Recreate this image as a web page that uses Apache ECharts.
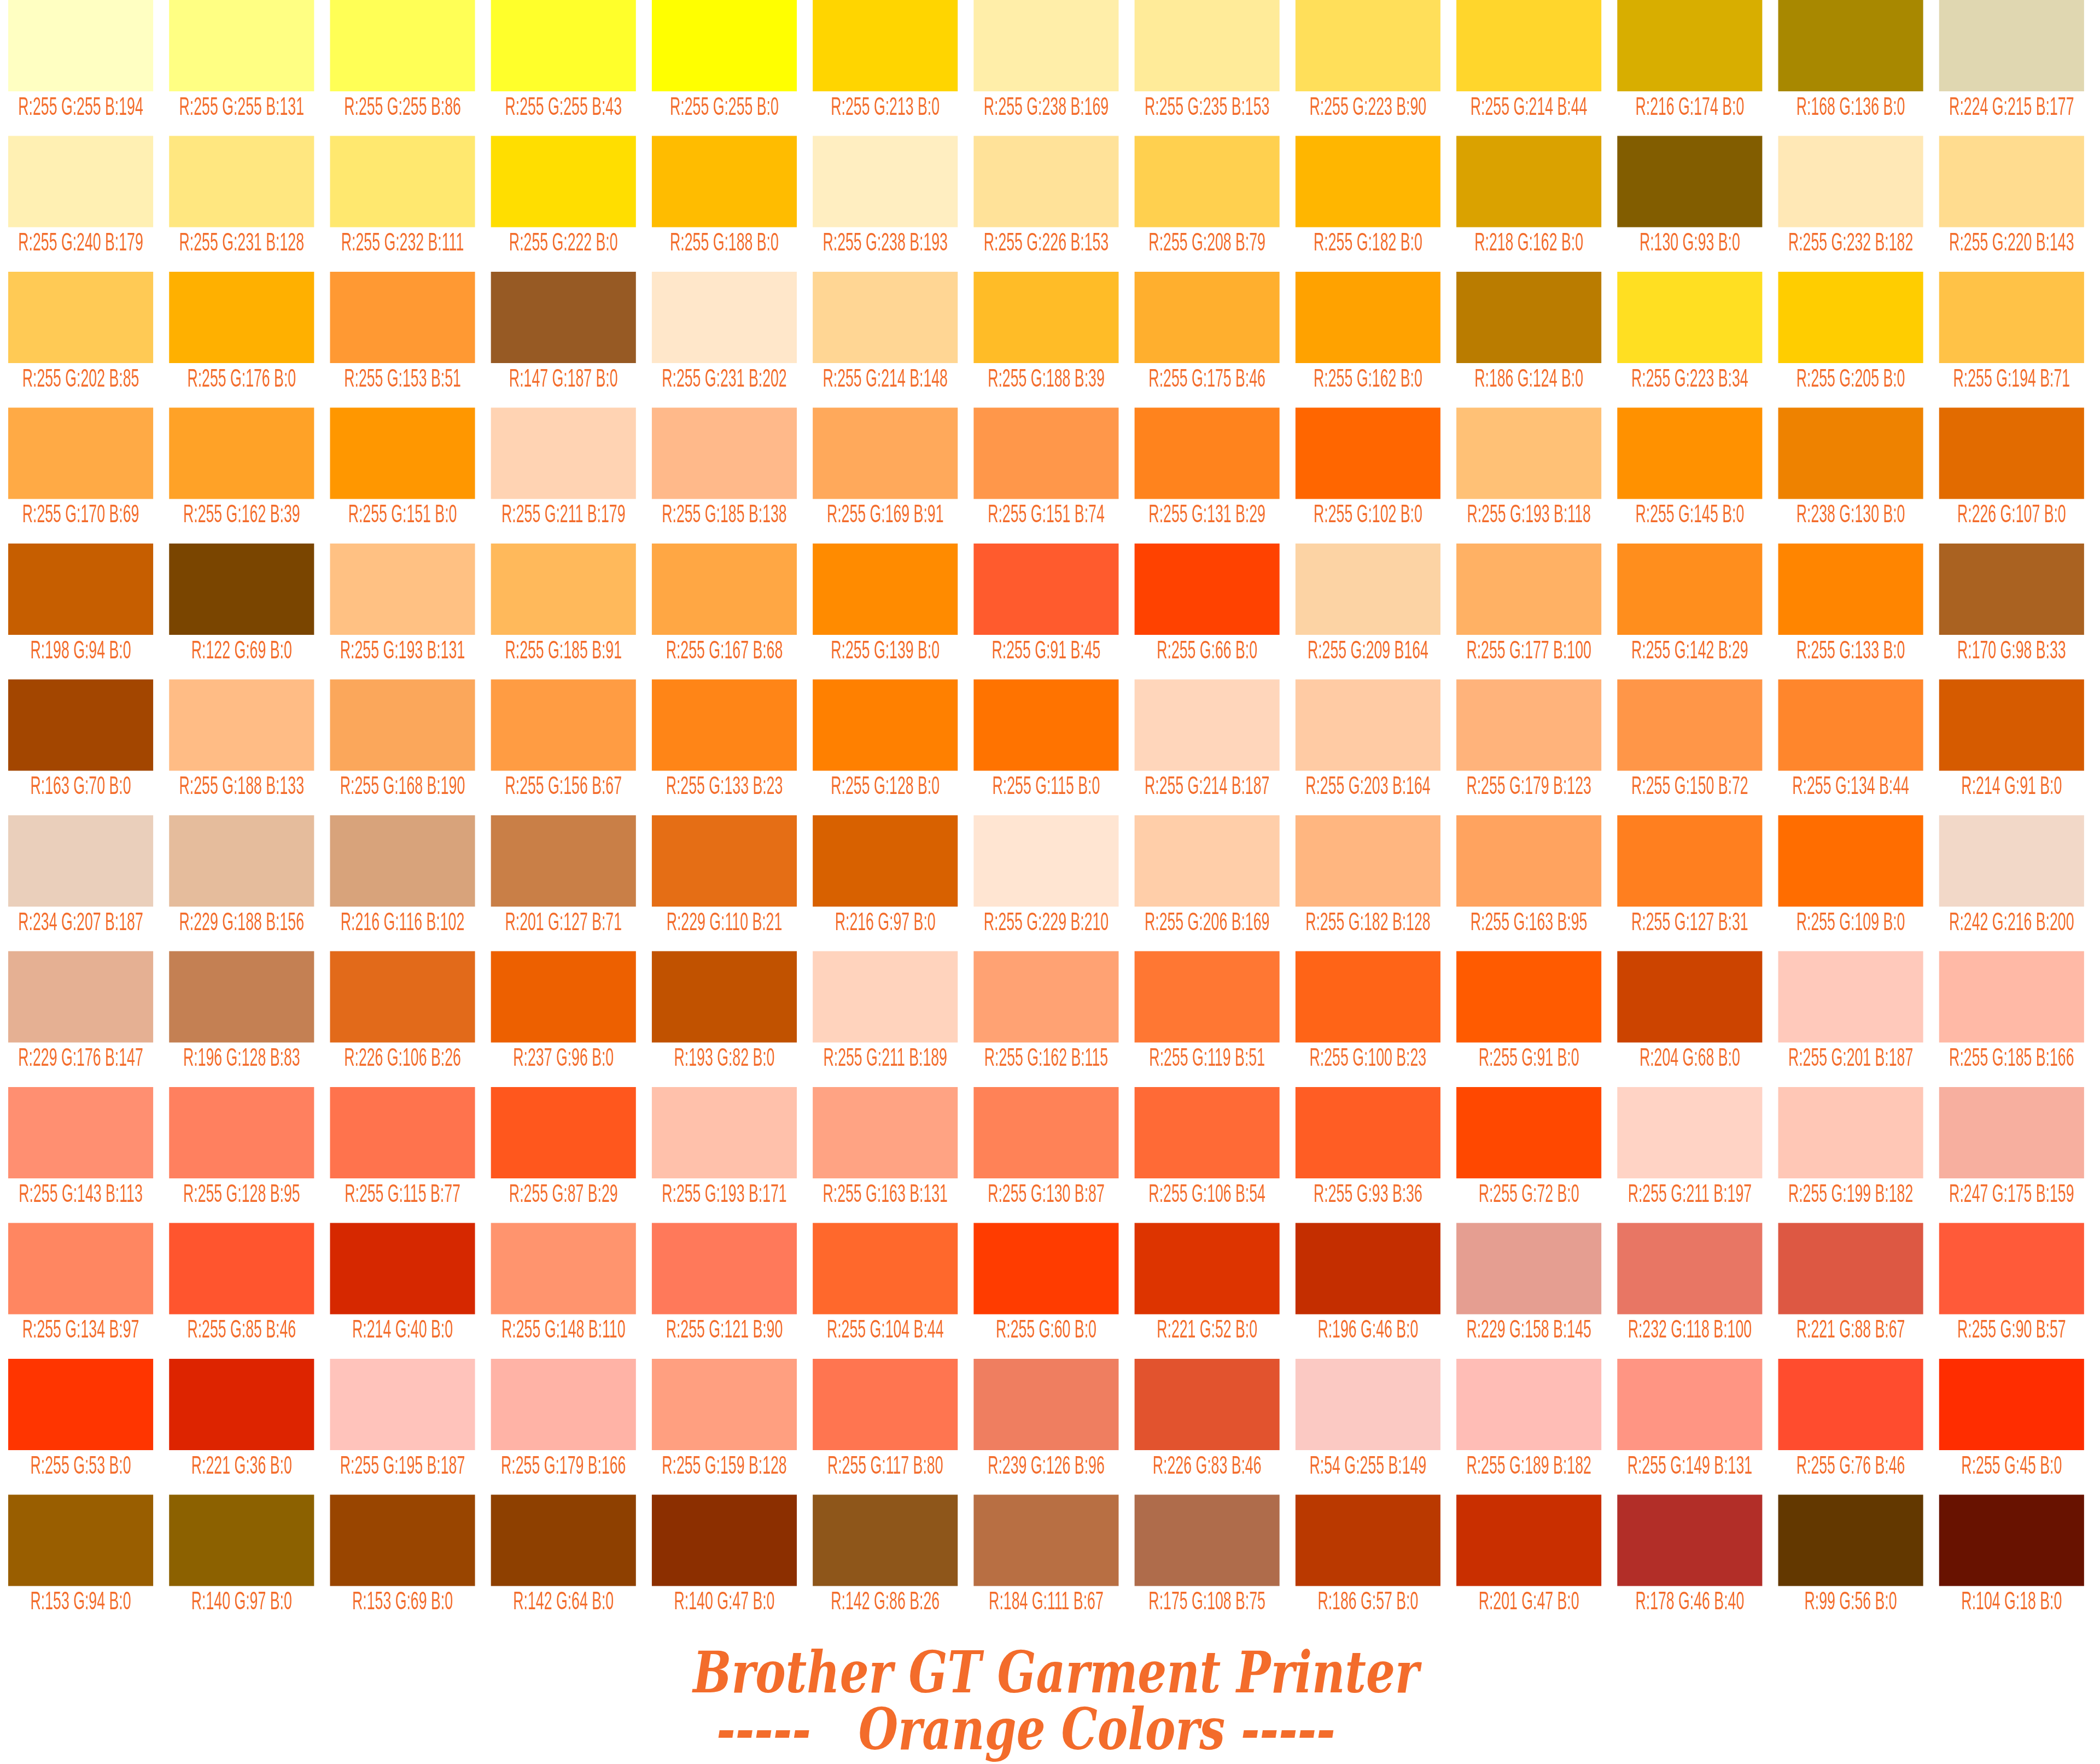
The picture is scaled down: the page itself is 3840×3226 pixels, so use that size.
<!DOCTYPE html>
<html><head><meta charset="utf-8">
<script src="https://cdn.jsdelivr.net/npm/echarts@6/dist/echarts.min.js"></script>
<style>html,body{margin:0;padding:0;background:#fff}#c{width:3840px;height:3226px}</style>
</head><body><div id="c"></div>
<script>
const row1 = ["R:255 G:255 B:194","R:255 G:255 B:131","R:255 G:255 B:86","R:255 G:255 B:43","R:255 G:255 B:0","R:255 G:213 B:0","R:255 G:238 B:169","R:255 G:235 B:153","R:255 G:223 B:90","R:255 G:214 B:44","R:216 G:174 B:0","R:168 G:136 B:0","R:224 G:215 B:177"];
const row2 = ["R:255 G:240 B:179","R:255 G:231 B:128","R:255 G:232 B:111","R:255 G:222 B:0","R:255 G:188 B:0","R:255 G:238 B:193","R:255 G:226 B:153","R:255 G:208 B:79","R:255 G:182 B:0","R:218 G:162 B:0","R:130 G:93 B:0","R:255 G:232 B:182","R:255 G:220 B:143"];
const row3 = ["R:255 G:202 B:85","R:255 G:176 B:0","R:255 G:153 B:51","R:147 G:187 B:0","R:255 G:231 B:202","R:255 G:214 B:148","R:255 G:188 B:39","R:255 G:175 B:46","R:255 G:162 B:0","R:186 G:124 B:0","R:255 G:223 B:34","R:255 G:205 B:0","R:255 G:194 B:71"];
const row4 = ["R:255 G:170 B:69","R:255 G:162 B:39","R:255 G:151 B:0","R:255 G:211 B:179","R:255 G:185 B:138","R:255 G:169 B:91","R:255 G:151 B:74","R:255 G:131 B:29","R:255 G:102 B:0","R:255 G:193 B:118","R:255 G:145 B:0","R:238 G:130 B:0","R:226 G:107 B:0"];
const row5 = ["R:198 G:94 B:0","R:122 G:69 B:0","R:255 G:193 B:131","R:255 G:185 B:91","R:255 G:167 B:68","R:255 G:139 B:0","R:255 G:91 B:45","R:255 G:66 B:0","R:255 G:209 B164","R:255 G:177 B:100","R:255 G:142 B:29","R:255 G:133 B:0","R:170 G:98 B:33"];
const row6 = ["R:163 G:70 B:0","R:255 G:188 B:133","R:255 G:168 B:190","R:255 G:156 B:67","R:255 G:133 B:23","R:255 G:128 B:0","R:255 G:115 B:0","R:255 G:214 B:187","R:255 G:203 B:164","R:255 G:179 B:123","R:255 G:150 B:72","R:255 G:134 B:44","R:214 G:91 B:0"];
const row7 = ["R:234 G:207 B:187","R:229 G:188 B:156","R:216 G:116 B:102","R:201 G:127 B:71","R:229 G:110 B:21","R:216 G:97 B:0","R:255 G:229 B:210","R:255 G:206 B:169","R:255 G:182 B:128","R:255 G:163 B:95","R:255 G:127 B:31","R:255 G:109 B:0","R:242 G:216 B:200"];
const row8 = ["R:229 G:176 B:147","R:196 G:128 B:83","R:226 G:106 B:26","R:237 G:96 B:0","R:193 G:82 B:0","R:255 G:211 B:189","R:255 G:162 B:115","R:255 G:119 B:51","R:255 G:100 B:23","R:255 G:91 B:0","R:204 G:68 B:0","R:255 G:201 B:187","R:255 G:185 B:166"];
const row9 = ["R:255 G:143 B:113","R:255 G:128 B:95","R:255 G:115 B:77","R:255 G:87 B:29","R:255 G:193 B:171","R:255 G:163 B:131","R:255 G:130 B:87","R:255 G:106 B:54","R:255 G:93 B:36","R:255 G:72 B:0","R:255 G:211 B:197","R:255 G:199 B:182","R:247 G:175 B:159"];
const row10 = ["R:255 G:134 B:97","R:255 G:85 B:46","R:214 G:40 B:0","R:255 G:148 B:110","R:255 G:121 B:90","R:255 G:104 B:44","R:255 G:60 B:0","R:221 G:52 B:0","R:196 G:46 B:0","R:229 G:158 B:145","R:232 G:118 B:100","R:221 G:88 B:67","R:255 G:90 B:57"];
const row11 = ["R:255 G:53 B:0","R:221 G:36 B:0","R:255 G:195 B:187","R:255 G:179 B:166","R:255 G:159 B:128","R:255 G:117 B:80","R:239 G:126 B:96","R:226 G:83 B:46","R:54 G:255 B:149","R:255 G:189 B:182","R:255 G:149 B:131","R:255 G:76 B:46","R:255 G:45 B:0"];
const row12 = ["R:153 G:94 B:0","R:140 G:97 B:0","R:153 G:69 B:0","R:142 G:64 B:0","R:140 G:47 B:0","R:142 G:86 B:26","R:184 G:111 B:67","R:175 G:108 B:75","R:186 G:57 B:0","R:201 G:47 B:0","R:178 G:46 B:40","R:99 G:56 B:0","R:104 G:18 B:0"];
const rows = [row1,row2,row3,row4,row5,row6,row7,row8,row9,row10,row11,row12];
// swatches whose printed colour differs visibly from their label
const swatchOverrides = {"2,3":"#975A24","5,2":"#FBA75B","6,2":"#D8A37B","10,8":"#FBC9C3","4,8":"#FCD3A4"};
const titleLine1 = "Brother GT Garment Printer";
const titleLine2 = "-----   Orange Colors -----";

function labelColor(s){
  const m = s.match(/R:?(\d+)\s*G:?(\d+)\s*B:?(\d+)/);
  return 'rgb('+m[1]+','+m[2]+','+m[3]+')';
}
const cells = [];
rows.forEach((r,ri)=>r.forEach((lab,ci)=>{
  cells.push({value:[ci,ri], label:lab, color: swatchOverrides[ri+','+ci] || labelColor(lab)});
}));
const ORANGE = '#F36C2B';
const chart = echarts.init(document.getElementById('c'));
chart.setOption({
  backgroundColor:'#fff', animation:false,
  grid:{left:15, top:0, width:13*295.2, height:12*248.5},
  xAxis:{type:'value', min:0, max:13, show:false},
  yAxis:{type:'value', min:0, max:12, inverse:true, show:false},
  series:[{
    type:'custom', coordinateSystem:'cartesian2d',
    data: cells,
    renderItem:(params, api)=>{
      const c = cells[params.dataIndex];
      const p0 = api.coord([api.value(0), api.value(1)]);
      const sz = api.size([1,1]);
      const w = sz[0]*0.901, h = sz[1]*0.672;
      return {type:'group', children:[
        {type:'rect', shape:{x:p0[0], y:p0[1], width:w, height:h}, style:{fill:c.color}},
        {type:'text', x:p0[0]+w/2, y:p0[1]+sz[1]*0.793, scaleX:0.58, scaleY:1,
          style:{text:c.label, fill:ORANGE, font:'46px "Liberation Sans"', textAlign:'center', textVerticalAlign:'middle'}}
      ]};
    }
  }],
  graphic:[
    {type:'text', x:1931, y:3068, scaleX:0.8, style:{text:titleLine1, fill:ORANGE, font:'italic bold 104px "DejaVu Serif"', textAlign:'center', textVerticalAlign:'middle'}},
    {type:'text', x:1876, y:3172, scaleX:0.8, style:{text:titleLine2, fill:ORANGE, font:'italic bold 104px "DejaVu Serif"', textAlign:'center', textVerticalAlign:'middle'}}
  ]
});
</script></body></html>
